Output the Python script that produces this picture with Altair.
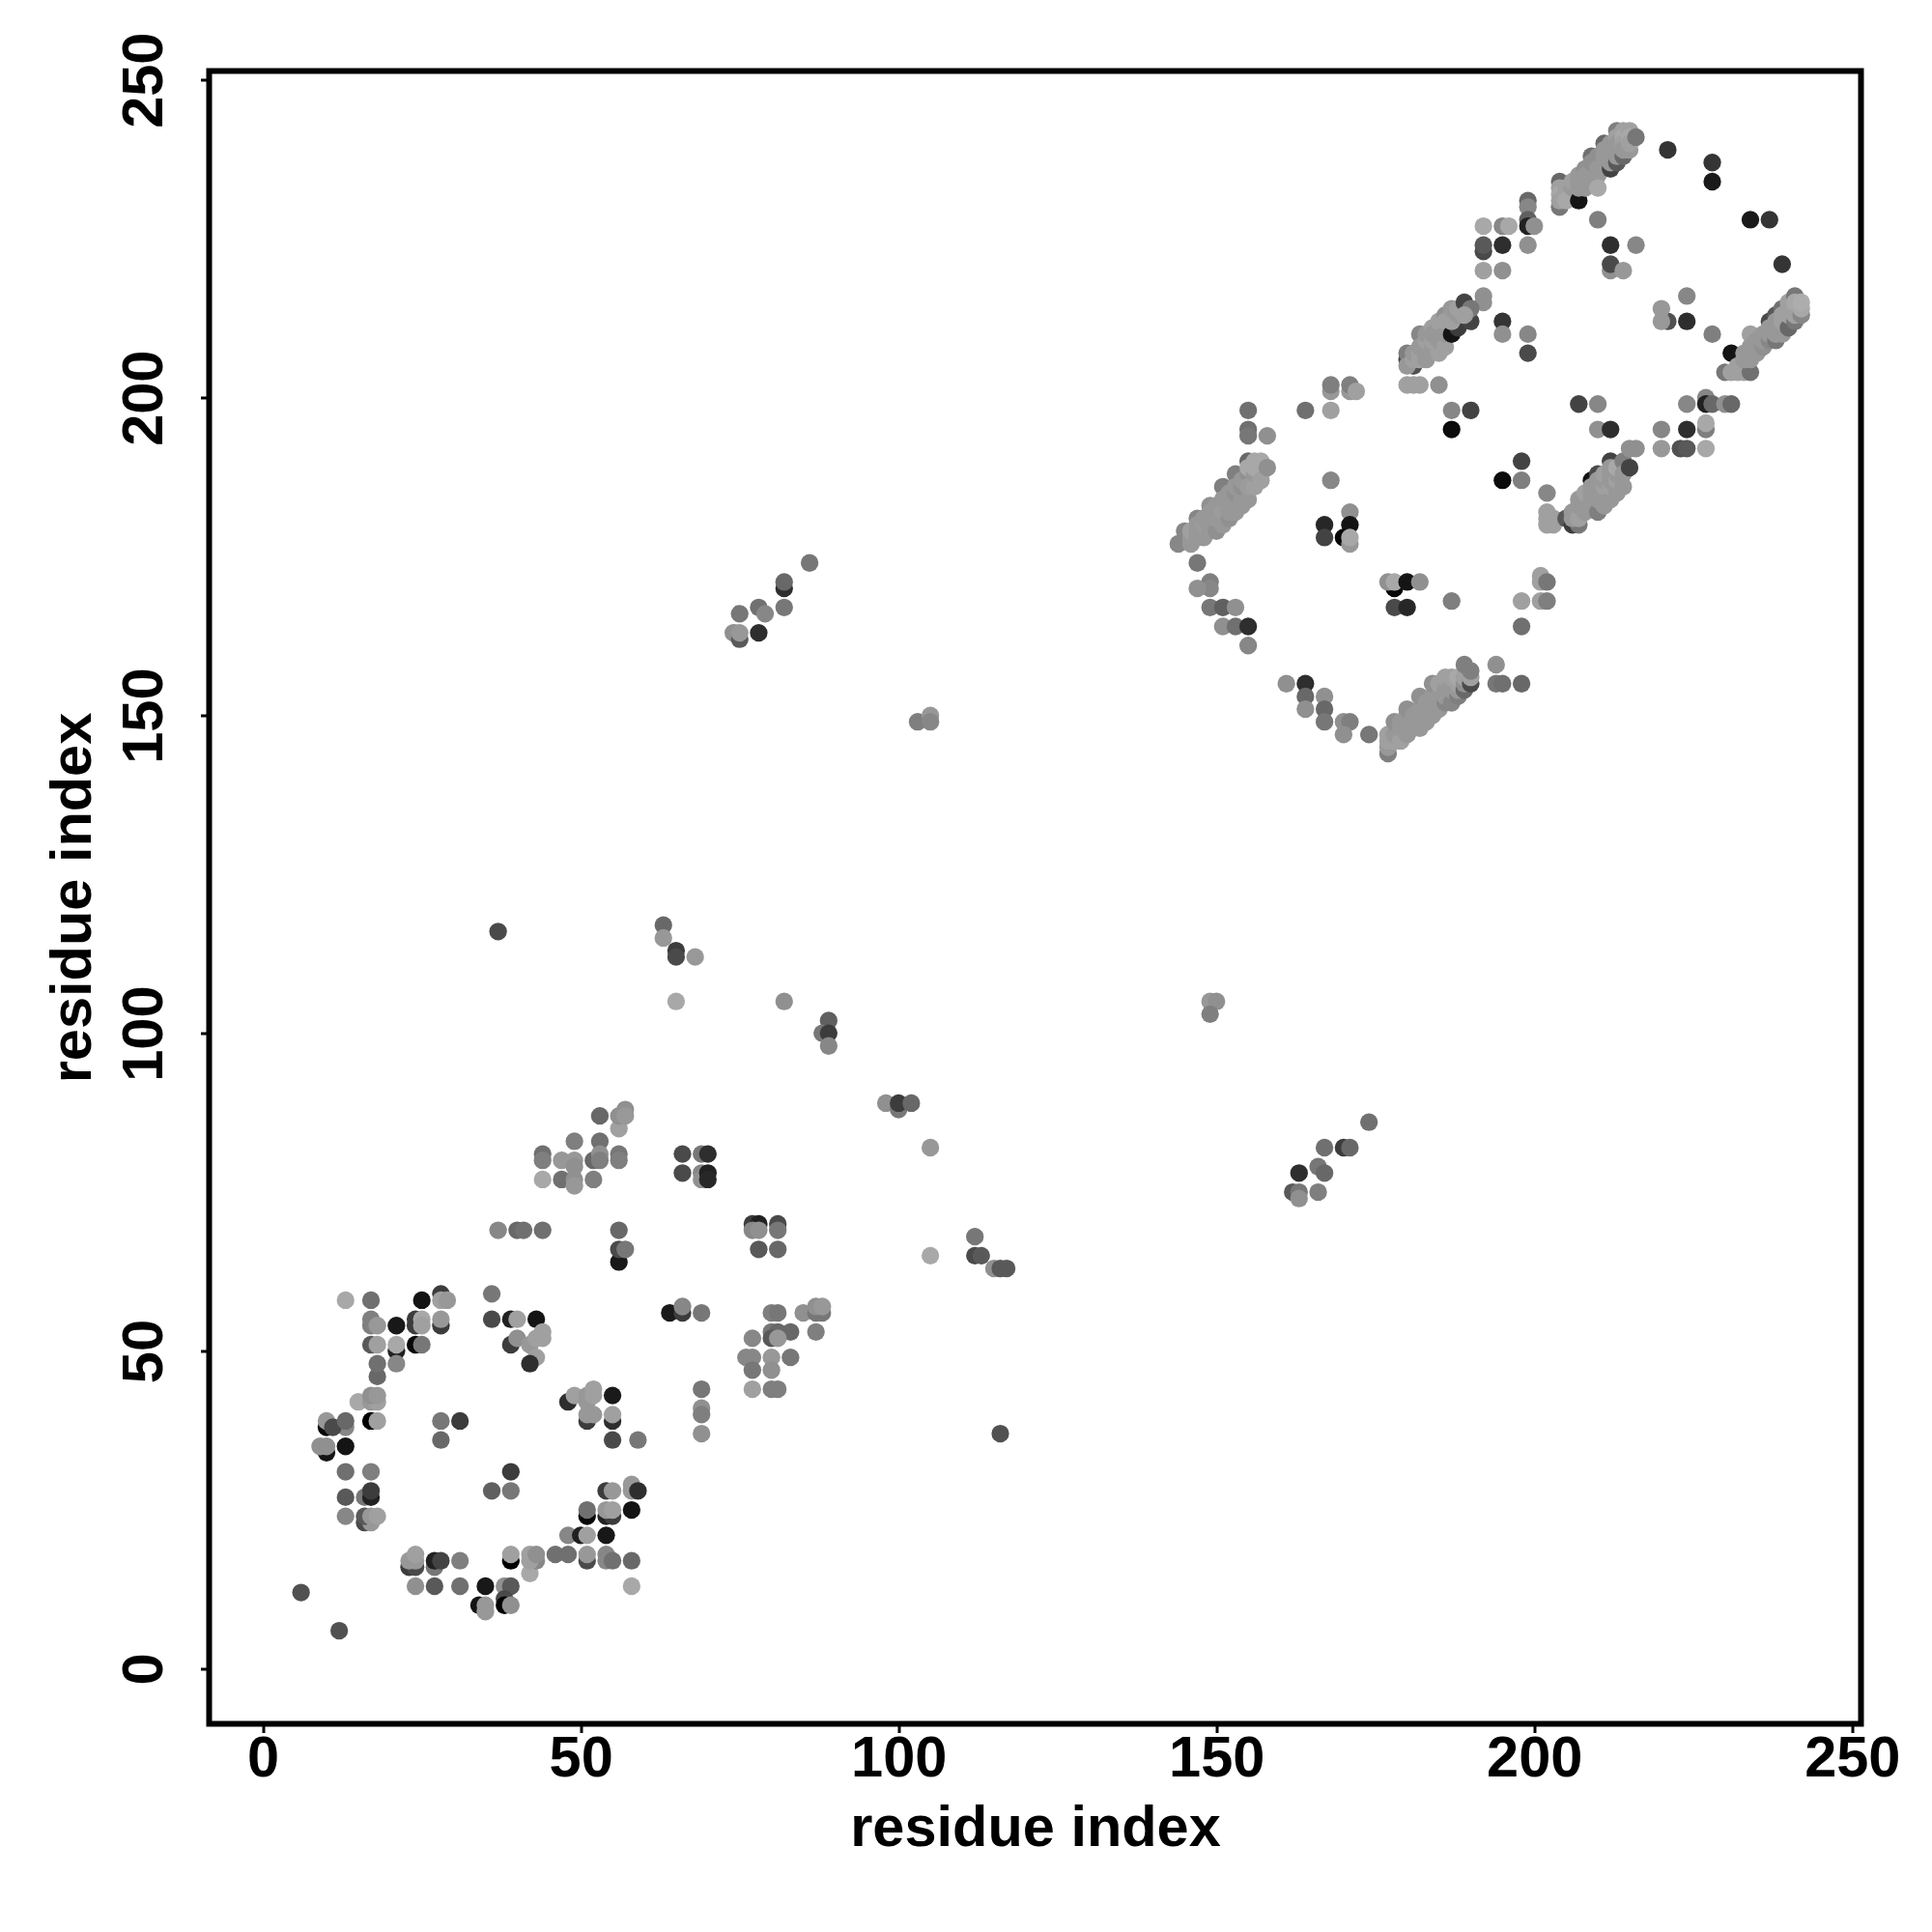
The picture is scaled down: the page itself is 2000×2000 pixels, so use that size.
import altair as alt
import pandas as pd

lower_west = [(13,58,0xb0),(17,58,0x78),(25,58,0x10),(28,59,0x40),(28,58,0xa8),(29,58,0xa0),(36,59,0x80),
 (17,55,0x88),(17,54,0x88),(18,54,0xa0),(21,54,0x15),(24,55,0x40),(24,54,0x40),(25,55,0xb0),(25,54,0xa8),(28,54,0x40),(28,55,0xa0),
 (17,51,0x60),(18,51,0xa8),(21,50,0x20),(21,51,0xb0),(24,51,0x05),(25,51,0x80),(21,48,0x90),(18,46,0x70),(18,48,0x78),
 (15,42,0xb0),(17,42,0xa0),(18,42,0xa8),(17,43,0x98),(18,43,0xa0),(17,39,0x00),(18,39,0xa8),
 (10,38,0x05),(10,39,0xa0),(13,38,0x90),(11,38,0x50),(13,39,0x70),(10,34,0x10),(9,35,0x98),(10,35,0x98),(13,35,0x10),
 (13,31,0x78),(17,31,0x88),(13,27,0x60),(16,27,0x80),(17,27,0x20),(17,28,0x40),(13,24,0x90),(16,23,0x50),(17,23,0xa0),(16,24,0x60),(17,24,0xa0),(18,24,0xa8),
 (28,39,0x80),(31,39,0x40),(28,36,0x70),(39,31,0x40),(36,28,0x68),(39,28,0x80),(6,12,0x58),(12,6,0x58)]

lower_north = [(36,55,0x50),(39,55,0x20),(40,55,0xa8),(43,55,0x10),(39,51,0x40),(40,52,0x98),(42,51,0xa0),(43,52,0xa8),(44,52,0xa8),(44,53,0xa8),(43,49,0xa8),(42,48,0x30),
 (48,42,0x30),(49,43,0xa8),(51,42,0xa0),(51,43,0xa0),(52,43,0xa8),(52,44,0xa8),(55,43,0x18),
 (51,39,0x40),(51,40,0xa0),(52,40,0xa0),(55,39,0x30),(55,40,0xa8),(55,36,0x50),(59,36,0x80)]

lower_south = [(58,29,0xa0),(58,28,0xa0),(59,28,0x30),(54,28,0x40),(55,28,0xa0),(58,25,0x10),(51,24,0x05),(51,25,0x78),(54,24,0x20),(55,24,0x40),(54,25,0xa0),(55,25,0xa8),
 (48,21,0x90),(50,21,0x20),(51,21,0xa8),(54,21,0x15),(46,18,0x78),(48,18,0x78),(51,17,0x50),(51,18,0xa0),(54,18,0x90),(54,17,0x90),(55,17,0x78),(58,17,0x70),
 (39,17,0x00),(39,18,0xa8),(42,15,0xb0),(43,17,0x90),(42,17,0xa8),(42,18,0xa8),(43,18,0x98),
 (23,16,0x40),(24,16,0x50),(23,17,0xa0),(24,17,0xa0),(24,18,0xa8),(27,16,0x80),(27,17,0x20),(28,17,0x48),(31,17,0x88),
 (24,13,0x98),(27,13,0x60),(31,13,0x78),(35,13,0x15),(38,13,0x98),(39,13,0x60),(38,11,0x50),(38,10,0x00),(39,10,0x98),(34,10,0x10),(35,10,0xa0),(35,9,0xa0),(58,13,0xb0)]

lower_middle = [(37,116,0x50),(63,117,0x70),(63,115,0xa0),(65,113,0x40),(65,112,0x50),(68,112,0xa0),(65,105,0xb0),(82,105,0x98),
 (89,102,0x68),(88,100,0x80),(89,100,0x40),(89,98,0x90),(98,89,0x98),(100,88,0x80),(100,89,0x40),(102,89,0x70),(105,82,0xa0),(105,65,0xb0),
 (112,68,0x80),(112,65,0x50),(113,65,0x60),(115,63,0x98),(116,63,0x60),(117,63,0x60),(116,37,0x58),
 (44,81,0x78),(44,80,0x88),(44,77,0xb0),(47,80,0xa0),(47,77,0x78),(49,83,0x88),(49,80,0xa0),(49,79,0x98),(49,77,0x98),(49,76,0xa0),(52,77,0x88),(52,80,0x70),
 (53,87,0x70),(53,83,0x78),(53,81,0x98),(53,80,0x88),(56,85,0xa8),(56,87,0x98),(57,88,0x98),(57,87,0xa0),(56,81,0x80),(56,80,0x88),
 (37,69,0x90),(40,69,0x70),(41,69,0x78),(44,69,0x78),(56,69,0x70),(56,64,0x15),(56,66,0x50),(57,66,0x80),
 (66,81,0x50),(66,78,0x50),(69,81,0x80),(70,81,0x30),(69,78,0x90),(69,77,0x98),(70,78,0x20),(70,77,0x28),
 (77,70,0x40),(78,70,0x20),(77,69,0x90),(78,69,0x98),(81,70,0x50),(81,69,0x80),(78,66,0x60),(81,66,0x70),
 (64,56,0x18),(66,56,0x40),(66,57,0x90),(69,56,0x80),(80,56,0x88),(81,56,0x80),(85,56,0x98),(87,56,0x80),(88,56,0x80),(87,57,0x98),(88,57,0xa0),(87,53,0x88),
 (83,53,0x70),(80,53,0x80),(81,53,0x70),(80,52,0x60),(81,52,0xa0),(77,52,0x90),(76,49,0x90),(77,49,0x90),(80,49,0xa0),(83,49,0x80),(77,47,0x80),(80,47,0x98),
 (77,44,0xa8),(80,44,0x88),(81,44,0x88),(69,44,0x80),(69,41,0x98),(69,40,0x88),(69,37,0x98)]

off_diagonal = [(149,105,0xa0),(150,105,0x98),(149,103,0x88),(103,149,0x88),(105,150,0xa0),(105,149,0x90),
 (74,163,0x98),(75,162,0x60),(75,163,0xa0),(75,166,0x80),(78,167,0x78),(79,166,0x90),(78,163,0x30),(82,170,0x30),(82,171,0x70),(82,167,0x80),(86,174,0x80),
 (162,75,0x60),(163,75,0x80),(163,74,0x98),(163,78,0x30),(166,79,0x80),(167,78,0x70),(166,75,0x88),(167,82,0x78),(170,82,0x40),(171,82,0x70),(174,86,0x78)]

upper_left = [(155,198,0x78),(155,195,0x78),(155,194,0x80),(158,194,0x98),(164,198,0x78),(168,198,0xa8),(168,201,0xa0),(168,202,0x88),(171,201,0xa0),(171,202,0x88),(172,201,0xa8),
 (145,179,0x90),(147,181,0x90),(149,183,0x98),(151,186,0x88),(153,188,0x88),(155,190,0x70),
 (144,177,0x90),(146,177,0xa0),(146,178,0xa0),(146,179,0xa8),(147,178,0xa0),(147,179,0xa0),(147,180,0xa0),(148,178,0xa0),(148,180,0xa4),(148,181,0xa0),(149,179,0xa0),(149,180,0xa0),(149,181,0xa0),(149,182,0xa0),(150,179,0x98),(150,181,0xa0),(150,183,0xa0),
 (151,180,0xa0),(151,182,0xa4),(151,184,0xa0),(152,181,0x98),(152,182,0xa0),(152,183,0xa0),(152,185,0xa0),(153,182,0xa0),(153,184,0xa0),(153,185,0x98),(153,186,0xa0),(154,183,0xa0),(154,184,0xa0),(154,186,0x98),(154,187,0xa0),(155,188,0x98),(155,184,0xa0),(155,186,0xa4),(155,189,0xb0),
 (156,186,0xa8),(156,188,0xa0),(156,189,0xb0),(156,190,0xb0),(157,187,0xa8),(157,190,0xb0),(158,189,0x98),
 (147,174,0x80),(149,171,0x88),(149,170,0x90),(147,170,0x98),(149,167,0x80),(151,167,0x68),(153,167,0x98),(151,164,0x98),(153,164,0x78),(155,164,0x30),(155,161,0x90),
 (161,155,0x98),(164,155,0x30),(164,153,0x70),(164,151,0x98),(167,153,0x98),(167,151,0x70),(167,149,0x80),(170,149,0x98),(171,149,0x88),(170,147,0x98),(174,147,0x80),(177,144,0x88),
 (177,145,0xa0),(177,146,0xa8),(177,147,0xa8),(178,146,0xa8),(178,147,0xa0),(178,149,0x98),(179,146,0xa8),(179,148,0xa0),(179,149,0xa0),(180,147,0xa0),(180,149,0xa0),(180,150,0xa0),(180,151,0x98),(181,148,0xa0),(181,149,0xa0),(181,150,0xa0),(182,148,0xa0),(182,150,0xa0),(182,151,0xa0),(182,153,0x98),
 (183,149,0xa0),(183,151,0xa0),(183,152,0xa0),(184,150,0xa0),(184,152,0xa0),(184,153,0xa0),(184,155,0x98),(185,151,0xa0),(185,152,0xa0),(185,153,0xa0),(185,155,0xa8),(186,152,0x90),(186,153,0xa0),(186,154,0xa0),(186,156,0xa8),(187,152,0x90),(187,154,0xa0),(187,155,0xa0),(187,156,0xa8),(188,153,0x88),(188,154,0xa0),(188,155,0xa8),(188,156,0xb0),
 (189,154,0x70),(189,155,0x98),(189,156,0xa8),(189,158,0x88),(190,155,0x50),(190,156,0xa8),(190,157,0x88),(194,158,0x98),(194,155,0x80),(195,155,0x78),(198,155,0x70)]

upper_center = [(168,187,0x90),(171,182,0x98),(167,180,0x28),(171,180,0x10),(167,178,0x48),(170,178,0x05),(171,177,0xa0),(171,178,0xb0),
 (178,170,0x05),(177,171,0x98),(178,171,0xb0),(180,171,0x10),(182,171,0x98),(178,167,0x50),(180,167,0x28),(187,168,0x88),
 (198,168,0xa8),(201,172,0xa8),(201,171,0xa8),(202,171,0x80),(201,168,0xa8),(202,168,0x88),(198,164,0x78),
 (187,198,0x90),(190,198,0x48),(187,195,0x08),(198,190,0x48),(198,187,0x88),(195,187,0x08),(202,185,0x90)]

upper_right = [(202,182,0xa8),(202,181,0xa8),(202,180,0xa8),(203,180,0xa8),(203,181,0xa8),(205,181,0x60),(206,180,0x40),(207,180,0x80),(209,187,0x10),(210,188,0x50),(212,190,0x48),
 (206,181,0xa0),(206,182,0xa0),(207,181,0xa8),(207,183,0xa0),(207,184,0xa0),(208,182,0xa0),(208,184,0xa0),(208,185,0xa8),(209,183,0xa0),(209,184,0xa0),(209,185,0xa0),(209,186,0xa0),(210,182,0x88),(210,184,0xa0),(210,185,0xa0),(210,186,0xa0),(210,187,0xa0),
 (211,183,0xa0),(211,185,0xa0),(211,186,0xa8),(211,187,0xa0),(211,188,0xa8),(212,188,0xa0),(212,189,0xa0),(212,184,0xa0),(212,186,0xa8),(212,187,0xa0),(213,185,0xa0),(213,187,0xa8),(213,188,0xa0),(213,189,0xb0),(214,190,0x88),(214,186,0xa0),(214,188,0xa0),(215,189,0x48),
 (215,192,0x98),(216,192,0x98),(207,199,0x48),(210,199,0x90),(210,195,0x98),(212,195,0x30),(220,195,0x90),(220,192,0xa0),(223,192,0x58),(224,192,0x60),(227,192,0xb0),(224,195,0x30),(227,195,0x88),(227,196,0xb0),
 (224,199,0x90),(227,200,0x90),(227,199,0x20),(228,199,0x70),(230,199,0x98),(231,199,0x70),(228,210,0x88),(224,212,0x30),(221,212,0x58),(220,214,0xa0),(220,212,0xa0),(224,216,0x90),
 (231,207,0x10),(230,204,0x80),(231,204,0xa8),(232,204,0xa8),(233,204,0xa8),(232,205,0xa8),(234,204,0x78),(233,206,0xa0),(233,207,0xa0),(234,207,0xa0),(234,206,0xa0),(234,210,0xa8),(234,208,0xa0),(235,208,0xa0),(235,209,0xa0),(235,207,0xa0),(236,208,0x98),(236,209,0xa0),(236,210,0xa0),
 (237,212,0x50),(237,209,0x90),(237,210,0xa0),(237,211,0xa0),(238,213,0x60),(238,209,0x80),(238,211,0xa0),(238,210,0xa0),(238,212,0xa0),(239,214,0x78),(239,210,0xa0),(239,212,0xa8),(239,213,0xa8),(240,211,0x70),(240,213,0xa8),(240,214,0xa8),(240,215,0xa8),(241,212,0x80),(241,216,0x80),(241,213,0xa8),(241,214,0xa8),(241,215,0xb0),(242,213,0x90),(242,214,0xb0),(242,215,0xb4),
 (239,221,0x38),(234,228,0x18),(237,228,0x38),(228,234,0x18),(228,237,0x38),(221,239,0x38)]

upper_top = [(204,234,0x70),(204,230,0x80),(204,233,0xa8),(204,232,0xb0),(204,231,0xa8),(205,233,0xa8),(205,231,0xb0),(206,233,0xa0),(207,231,0x10),(206,234,0xa8),(207,234,0xa0),(207,233,0xa0),(207,235,0xa0),(208,236,0x98),(208,235,0xa0),(208,234,0xa0),(208,233,0xa0),
 (209,238,0x78),(209,234,0xa0),(209,235,0xa0),(209,236,0xa0),(209,237,0x98),(210,238,0x98),(210,236,0xa0),(210,235,0xa0),(210,233,0xb0),(211,240,0x70),(211,239,0xa0),(211,238,0xa0),(211,236,0xa0),(212,236,0x48),(212,239,0xa0),(212,238,0xa0),(212,240,0xa0),(212,237,0xa0),
 (213,237,0x60),(213,242,0x88),(213,241,0xa8),(213,240,0xa0),(213,239,0xa0),(213,238,0xa0),(214,238,0x70),(214,242,0xa8),(214,241,0xb0),(214,240,0xa8),(214,239,0xa0),(215,239,0xa0),(215,242,0xa8),(215,241,0xb0),(215,240,0xa8),(216,241,0x80),
 (210,228,0x88),(212,224,0x30),(216,224,0x90),(212,220,0x98),(212,221,0x50),(214,220,0xa0),
 (199,231,0x70),(199,230,0x90),(199,228,0x68),(199,227,0x20),(200,227,0x98),(199,224,0x98),(192,227,0xb0),(195,227,0x90),(196,227,0xb0),(192,223,0x50),(192,224,0x60),(195,224,0x30),(192,220,0xa8),(195,220,0x98),
 (192,216,0x98),(192,215,0x98),(195,212,0x38),(195,210,0x98),(199,210,0x90),(199,207,0x50)]

upper_strand = [(180,202,0xa8),(181,202,0xa8),(182,202,0xa8),(185,202,0x98),(180,206,0x50),(181,205,0x58),(180,207,0x88),(180,205,0xa0),(181,206,0xa8),(181,207,0xa0),(182,210,0x90),(182,206,0xa8),(182,207,0xa8),(182,208,0xa0),
 (183,206,0xa0),(183,207,0xa0),(183,209,0xa8),(183,210,0xa0),(184,211,0xa8),(184,208,0xa0),(184,209,0xa8),(184,210,0xa0),(185,207,0xa8),(185,209,0xa0),(185,211,0xa0),(185,212,0xa8),(186,213,0x98),(186,208,0xa8),(186,210,0xa0),(186,212,0xa8),
 (187,210,0x10),(188,211,0x40),(187,212,0xa8),(187,214,0xa0),(188,213,0xa0),(188,214,0xa8),(189,215,0x48),(190,212,0x48),(190,214,0x80),(189,213,0xa8)]

regions = [lower_west, lower_north, lower_south, lower_middle, off_diagonal, upper_left, upper_center, upper_right, upper_top, upper_strand]
x_ticks = [0, 50, 100, 150, 200, 250]
y_ticks = [0, 50, 100, 150, 200, 250]

rows = [t for region in regions for t in region]
df = pd.DataFrame(rows, columns=["i", "j", "gray"])
FONT = "Liberation Sans"

common = dict(
    values=x_ticks, grid=False, domain=False, tickColor="black", tickWidth=3, tickSize=9,
    labelFont=FONT, labelFontWeight="bold", labelFontSize=59.5, labelColor="black", labelOverlap=False,
    labelFlush=False, labelBound=False, titleFont=FONT, titleFontWeight="bold", titleFontSize=59.5, titleColor="black",
    title="residue index",
)

chart = alt.Chart(df).mark_circle(size=335, opacity=1).encode(
    x=alt.X("i:Q", scale=alt.Scale(domain=[-8.46, 251.4], nice=False, zero=False),
            axis=alt.Axis(labelPadding=-2, titlePadding=13, **common)),
    y=alt.Y("j:Q", scale=alt.Scale(domain=[-8.66, 251.4], nice=False, zero=False),
            axis=alt.Axis(labelPadding=28, titlePadding=14, labelAngle=-90, labelAlign="center", labelBaseline="bottom", **common)),
    color=alt.Color("gray:Q", scale=alt.Scale(domain=[0, 255], range=["#000000", "#ffffff"]), legend=None),
).properties(width=1710, height=1711, padding={"left": 37.5, "top": 24.5, "right": 4, "bottom": 20}, background="white"
).configure_view(stroke="black", strokeWidth=6)

chart.save("out.html", embed_options={"renderer": "svg", "actions": False})
